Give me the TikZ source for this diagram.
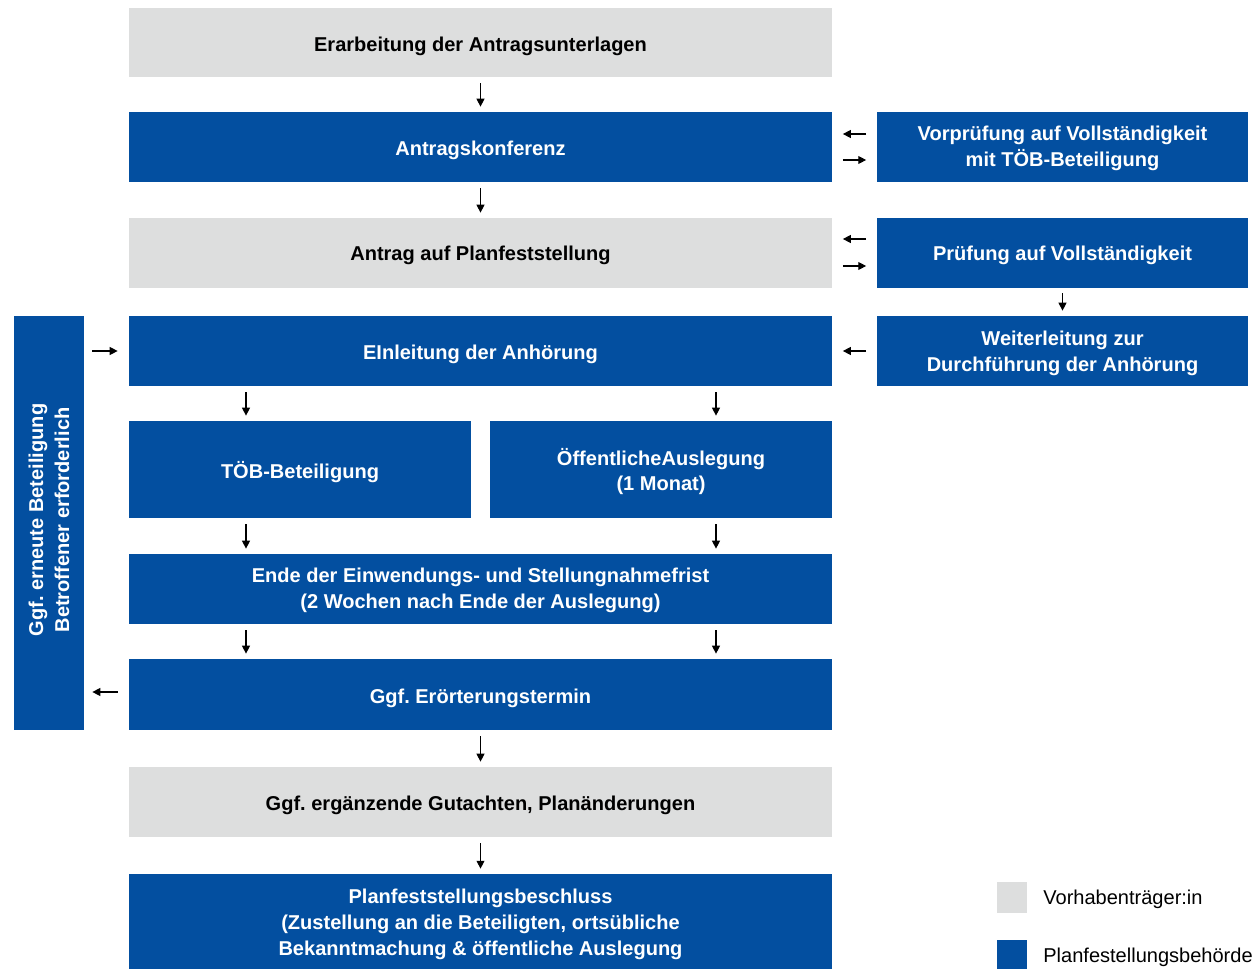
\documentclass[tikz,border=0pt]{standalone}
\usepackage{fontspec}
\setmainfont{Liberation Sans}
\frenchspacing
\usetikzlibrary{arrows.meta}
\definecolor{bhblue}{RGB}{3,79,160}
\definecolor{bhgray}{RGB}{221,222,222}
\begin{document}
\begin{tikzpicture}[x=0.02cm,y=-0.02cm,
  bx/.style n args={2}{minimum width=#1*0.02cm, minimum height=#2*0.02cm},
  box/.style={rectangle, inner sep=0pt},
  bluebox/.style={box, fill=bhblue},
  graybox/.style={box, fill=bhgray},
  txt/.style={inner sep=0pt, align=center, font=\frenchspacing\bfseries\fontsize{11.4}{14.7}\selectfont},
  wtxt/.style={txt, text=white},
  ktxt/.style={txt, text=black},
  arr/.style={-{Triangle[length=4.5pt,width=4.5pt]}, line width=0.6pt, black},
  varr/.style={arr, shorten <=0.12cm, shorten >=0.1cm},
  harr/.style={arr, shorten <=0.21cm, shorten >=0.21cm},
  legtext/.style={anchor=west, inner sep=0pt, font=\fontsize{11.4}{14.7}\selectfont}
]
\useasboundingbox (0,0) rectangle (1257,969);
% boxes
\node[graybox, bx={703}{69}] (e1)  at (480.5,42.5) {};
\node[bluebox, bx={703}{70}] (ak)  at (480.5,147) {};
\node[bluebox, bx={371}{70}] (vor) at (1062.5,147) {};
\node[graybox, bx={703}{70}] (ant) at (480.5,253) {};
\node[bluebox, bx={371}{70}] (pru) at (1062.5,253) {};
\node[bluebox, bx={703}{70}] (ein) at (480.5,351) {};
\node[bluebox, bx={371}{70}] (wei) at (1062.5,351) {};
\node[bluebox, bx={70}{414}] (lft) at (49,523) {};
\node[bluebox, bx={342}{97}] (toeb) at (300,469.5) {};
\node[bluebox, bx={342}{97}] (oeff) at (661,469.5) {};
\node[bluebox, bx={703}{70}] (ende) at (480.5,589) {};
\node[bluebox, bx={703}{71}] (eroe) at (480.5,694.5) {};
\node[graybox, bx={703}{70}] (erg) at (480.5,802) {};
\node[bluebox, bx={703}{95}] (plan) at (480.5,921.5) {};
% texts
\node[ktxt] (e1t) at ([yshift=-0.07cm]e1.center) {Erarbeitung der Antragsunterlagen};
\node[wtxt] (akt) at ([yshift=-0.06cm]ak.center) {Antragskonferenz};
\node[wtxt] (vort) at ([yshift=-0.03cm]vor.center) {Vorprüfung auf Vollständigkeit\\mit TÖB-Beteiligung};
\node[ktxt] (antt) at ([yshift=-0.05cm]ant.center) {Antrag auf Planfeststellung};
\node[wtxt] (prut) at ([yshift=-0.05cm]pru.center) {Prüfung auf Vollständigkeit};
\node[wtxt] (eint) at ([yshift=-0.06cm]ein.center) {EInleitung der Anhörung};
\node[wtxt] (weit) at ([yshift=-0.04cm]wei.center) {Weiterleitung zur\\Durchführung der Anhörung};
\node[wtxt, rotate=90] (lftt) at (49,520) {Ggf. erneute Beteiligung\\Betroffener erforderlich};
\node[wtxt] (toebt) at ([yshift=-0.05cm]toeb.center) {TÖB-Beteiligung};
\node[wtxt] (oefft) at ([yshift=-0.04cm]oeff.center) {ÖffentlicheAuslegung\\(1 Monat)};
\node[wtxt] (endet) at ([yshift=-0.03cm]ende.center) {Ende der Einwendungs- und Stellungnahmefrist\\(2 Wochen nach Ende der Auslegung)};
\node[wtxt] (eroet) at ([yshift=-0.07cm]eroe.center) {Ggf. Erörterungstermin};
\node[ktxt] (ergt) at ([yshift=-0.07cm]erg.center) {Ggf. ergänzende Gutachten, Planänderungen};
\node[wtxt] (plant) at ([yshift=-0.06cm]plan.center) {Planfeststellungsbeschluss\\(Zustellung an die Beteiligten, ortsübliche\\Bekanntmachung \& öffentliche Auslegung};
% legend
\node[graybox, bx={30}{31}] (lg1) at (1012,897.5) {};
\node[bluebox, bx={30}{29}] (lg2) at (1012,954.5) {};
\node[legtext] (lt1) at (1043,899) {Vorhabenträger:in};
\node[legtext] (lt2) at (1043,957) {Planfestellungsbehörde};
% helper x positions
\coordinate (cL) at (246,0);
\coordinate (cR) at (716,0);
% connectors
\draw[varr] (e1.south) -- (ak.north);
\draw[varr] (ak.south) -- (ant.north);
\draw[harr] ([yshift=0.26cm]vor.west) -- ([yshift=0.26cm]ak.east);
\draw[harr] ([yshift=-0.26cm]ak.east) -- ([yshift=-0.26cm]vor.west);
\draw[harr] ([yshift=0.28cm]pru.west) -- ([yshift=0.28cm]ant.east);
\draw[harr] ([yshift=-0.26cm]ant.east) -- ([yshift=-0.26cm]pru.west);
\draw[arr, shorten <=0.1cm, shorten >=0.1cm] (pru.south) -- (wei.north);
\draw[harr] (wei.west) -- (ein.east);
\draw[arr, shorten <=0.16cm, shorten >=0.22cm] (lft.east |- ein.west) -- (ein.west);
\draw[arr, shorten <=0.22cm, shorten >=0.16cm] ([yshift=0.05cm]eroe.west) -- ([yshift=0.05cm]lft.east |- eroe.west);
\draw[varr] (ein.south -| cL) -- (toeb.north -| cL);
\draw[varr] (ein.south -| cR) -- (oeff.north -| cR);
\draw[varr] (toeb.south -| cL) -- (ende.north -| cL);
\draw[varr] (oeff.south -| cR) -- (ende.north -| cR);
\draw[varr] (ende.south -| cL) -- (eroe.north -| cL);
\draw[varr] (ende.south -| cR) -- (eroe.north -| cR);
\draw[varr] (eroe.south) -- (erg.north);
\draw[varr] (erg.south) -- (plan.north);
\end{tikzpicture}
\end{document}
